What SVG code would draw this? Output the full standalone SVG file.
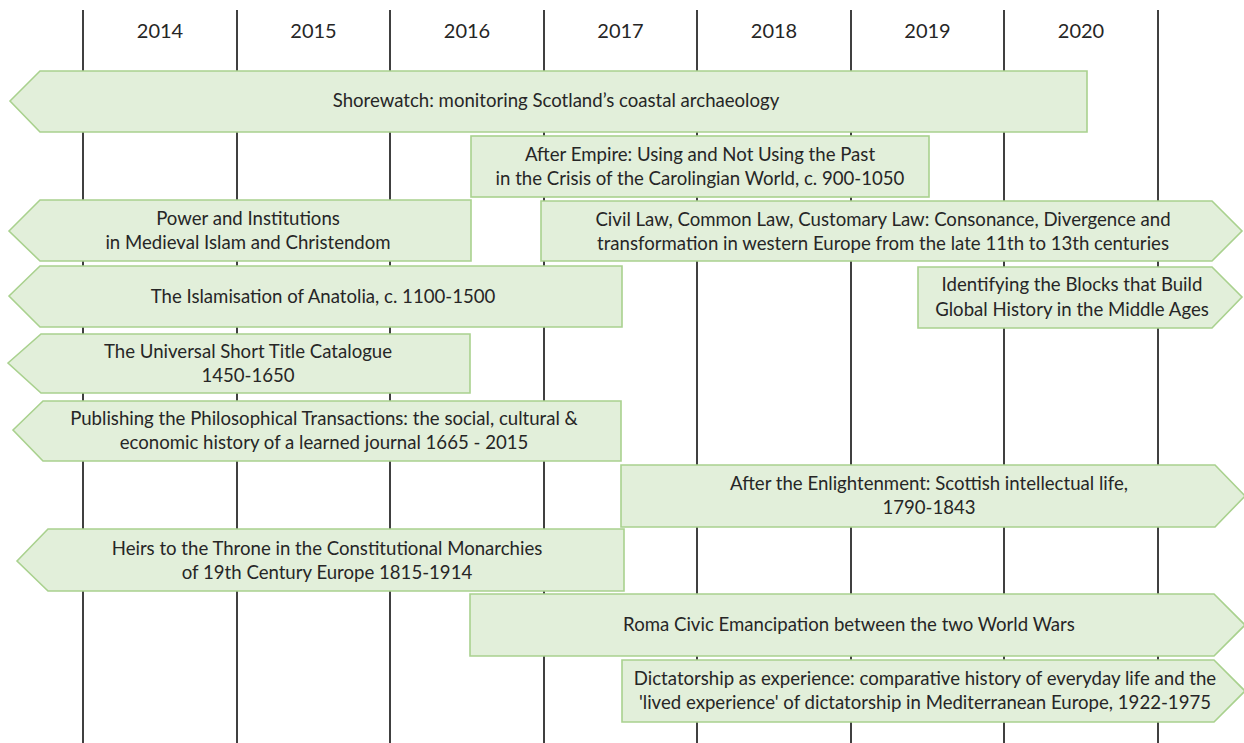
<svg xmlns="http://www.w3.org/2000/svg" width="1244" height="743" viewBox="0 0 1244 743">
<style>
.bg{fill:#ffffff}
.grid line{stroke:#404040;stroke-width:2}
.yr{font-family:Lato,"Open Sans",sans-serif;font-size:20px;fill:#262626;text-anchor:middle}
.box{fill:#E2EFDA;stroke:#A9D18E;stroke-width:1.6}
.t{font-family:Lato,"Open Sans",sans-serif;font-size:18.6px;fill:#262626;text-anchor:middle}
</style>
<rect class="bg" x="0" y="0" width="1244" height="743"/>
<g id="grid" class="grid">
<line x1="83" y1="10" x2="83" y2="743"/>
<line x1="237" y1="10" x2="237" y2="743"/>
<line x1="390" y1="10" x2="390" y2="743"/>
<line x1="544" y1="10" x2="544" y2="743"/>
<line x1="697" y1="10" x2="697" y2="743"/>
<line x1="851" y1="10" x2="851" y2="743"/>
<line x1="1004" y1="10" x2="1004" y2="743"/>
<line x1="1158" y1="10" x2="1158" y2="743"/>
</g>
<g id="years">
<text class="yr" x="160" y="38">2014</text>
<text class="yr" x="313.5" y="38">2015</text>
<text class="yr" x="467" y="38">2016</text>
<text class="yr" x="620.5" y="38">2017</text>
<text class="yr" x="774" y="38">2018</text>
<text class="yr" x="927.5" y="38">2019</text>
<text class="yr" x="1081" y="38">2020</text>
</g>
<g id="connectors"></g>
<g id="shorewatch">
<polygon class="box" points="10,101 40,71 1087,71 1087,132 40,132"/>
<text class="t" x="556" y="107">Shorewatch: monitoring Scotland’s coastal archaeology</text>
</g>
<g id="after-empire">
<rect class="box" x="471" y="136" width="458" height="61"/>
<text class="t" x="700" y="161">After Empire: Using and Not Using the Past</text>
<text class="t" x="700" y="185">in the Crisis of the Carolingian World, c. 900-1050</text>
</g>
<g id="power">
<polygon class="box" points="9,231 40,200 471,200 471,261 40,261"/>
<text class="t" x="248" y="225">Power and Institutions</text>
<text class="t" x="248" y="249">in Medieval Islam and Christendom</text>
</g>
<g id="civil-law">
<polygon class="box" points="541,201 1212,201 1242,231 1212,261 541,261"/>
<text class="t" x="883" y="226">Civil Law, Common Law, Customary Law: Consonance, Divergence and</text>
<text class="t" x="883" y="250">transformation in western Europe from the late 11th to 13th centuries</text>
</g>
<g id="islamisation">
<polygon class="box" points="9,296 40,266 622,266 622,327 40,327"/>
<text class="t" x="323" y="303">The Islamisation of Anatolia, c. 1100-1500</text>
</g>
<g id="identifying">
<polygon class="box" points="918,267 1212,267 1242,297 1212,328 918,328"/>
<text class="t" x="1072" y="291">Identifying the Blocks that Build</text>
<text class="t" x="1072" y="316">Global History in the Middle Ages</text>
</g>
<g id="ustc">
<polygon class="box" points="8,363 41,334 470,334 470,393 41,393"/>
<text class="t" x="248" y="358">The Universal Short Title Catalogue</text>
<text class="t" x="248" y="382">1450-1650</text>
</g>
<g id="publishing">
<polygon class="box" points="13,430 43,401 621,401 621,461 43,461"/>
<text class="t" x="324" y="425">Publishing the Philosophical Transactions: the social, cultural &amp;</text>
<text class="t" x="324" y="449">economic history of a learned journal 1665 - 2015</text>
</g>
<g id="enlightenment">
<polygon class="box" points="621,465 1215,465 1245,496 1215,527 621,527"/>
<text class="t" x="929" y="490">After the Enlightenment: Scottish intellectual life,</text>
<text class="t" x="929" y="514">1790-1843</text>
</g>
<g id="heirs">
<polygon class="box" points="17,561 48,529 624,529 624,591 48,591"/>
<text class="t" x="327" y="555">Heirs to the Throne in the Constitutional Monarchies</text>
<text class="t" x="327" y="579">of 19th Century Europe 1815-1914</text>
</g>
<g id="roma">
<polygon class="box" points="470,594 1214,594 1245,625 1214,656 470,656"/>
<text class="t" x="849" y="631">Roma Civic Emancipation between the two World Wars</text>
</g>
<g id="dictatorship">
<polygon class="box" points="622,660 1214,660 1245,691 1214,722 622,722"/>
<text class="t" x="925" y="685">Dictatorship as experience: comparative history of everyday life and the</text>
<text class="t" x="925" y="709">'lived experience' of dictatorship in Mediterranean Europe, 1922-1975</text>
</g>
</svg>
